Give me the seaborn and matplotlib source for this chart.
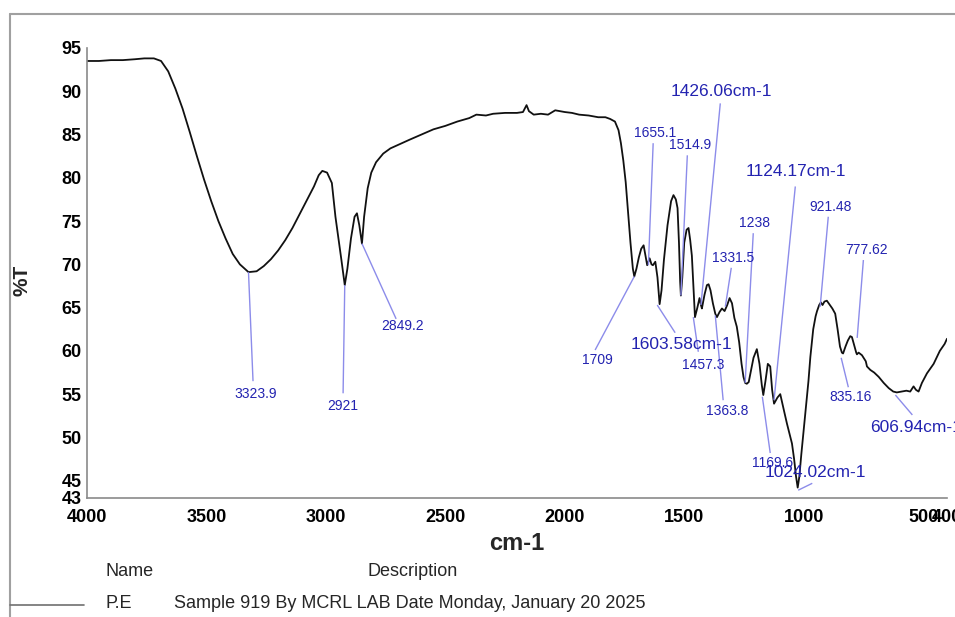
import matplotlib
matplotlib.use("Agg")
import matplotlib.pyplot as plt
from matplotlib.lines import Line2D
import seaborn as sns
import pandas as pd

# ---------------- data ----------------
wavenumber = [4000, 3950, 3900, 3850, 3800, 3760, 3720, 3690, 3660, 3630, 3600, 3570, 3540, 3510,
              3480, 3450, 3420, 3390, 3360, 3324, 3290, 3260, 3230, 3200, 3170, 3140, 3110, 3080,
              3050, 3030, 3015, 2995, 2975, 2960, 2950, 2935, 2921, 2910, 2895, 2880, 2870, 2860,
              2849, 2840, 2825, 2810, 2790, 2760, 2730, 2690, 2650, 2600, 2550, 2500, 2450, 2400,
              2370, 2330, 2300, 2250, 2200, 2175, 2160, 2150, 2130, 2100, 2070, 2040, 2020, 2000,
              1970, 1940, 1900, 1860, 1830, 1810, 1790, 1775, 1765, 1755, 1745, 1735, 1725, 1715,
              1709, 1700, 1690, 1680, 1670, 1662, 1655, 1645, 1637, 1631, 1621, 1612, 1603, 1595,
              1585, 1570, 1555, 1545, 1535, 1528, 1522, 1517, 1514, 1508, 1500, 1490, 1482, 1475,
              1468, 1460, 1455, 1445, 1436, 1430, 1426, 1415, 1405, 1398, 1390, 1380, 1370, 1363,
              1352, 1342, 1331, 1320, 1310, 1300, 1290, 1280, 1270, 1260, 1252, 1245, 1238, 1230,
              1220, 1210, 1196, 1185, 1175, 1169, 1160, 1150, 1140, 1132, 1124, 1110, 1098, 1090,
              1080, 1070, 1060, 1049, 1040, 1032, 1025, 1018, 1010, 1000, 990, 980, 972, 960,
              950, 944, 935, 928, 921, 913, 903, 890, 880, 868, 858, 848, 840, 835, 825, 815,
              805, 798, 790, 780, 777, 770, 756, 740, 735, 721, 705, 686, 665, 644, 625, 610,
              590, 570, 554, 545, 540, 530, 519, 505, 484, 456, 430, 410, 400]
transmittance = [93.5, 93.5, 93.6, 93.6, 93.7, 93.8, 93.8, 93.5, 92.3, 90.3, 88.0, 85.3, 82.5, 79.8,
                 77.3, 75.0, 73.0, 71.2, 70.0, 69.1, 69.2, 69.8, 70.6, 71.6, 72.8, 74.2, 75.8, 77.4,
                 79.0, 80.3, 80.8, 80.6, 79.4, 75.5, 73.5, 70.5, 67.6, 69.5, 73.0, 75.5, 75.9, 74.5,
                 72.4, 75.5, 78.8, 80.6, 81.8, 82.8, 83.4, 83.9, 84.4, 85.0, 85.6, 86.0, 86.5, 86.9,
                 87.3, 87.2, 87.4, 87.5, 87.5, 87.6, 88.4, 87.7, 87.3, 87.4, 87.3, 87.8, 87.7, 87.6,
                 87.5, 87.3, 87.2, 87.0, 87.0, 86.8, 86.5, 85.5, 84.0, 82.0, 79.5, 76.0, 72.5, 69.5,
                 68.6, 69.5, 70.8, 71.8, 72.2, 71.0, 69.9, 70.7, 70.0, 69.9, 70.3, 68.5, 65.4, 67.0,
                 70.5, 74.5, 77.3, 78.0, 77.5, 76.5, 72.5, 68.0, 66.4, 68.5, 72.5, 74.0, 74.2, 72.8,
                 71.0, 66.5, 63.9, 65.0, 66.1, 65.3, 64.9, 66.5, 67.6, 67.7, 67.0, 65.5, 64.3, 63.9,
                 64.5, 64.9, 64.6, 65.3, 66.1, 65.5, 63.8, 62.8, 61.0, 58.5, 57.0, 56.3, 56.2, 56.4,
                 57.8, 59.2, 60.2, 58.5, 56.0, 54.9, 56.5, 58.5, 58.2, 55.5, 53.9, 54.6, 55.0, 54.0,
                 52.8, 51.6, 50.5, 49.3, 47.5, 45.5, 44.2, 45.5, 48.0, 50.8, 53.5, 56.5, 59.3, 62.5,
                 64.0, 64.6, 65.3, 65.6, 65.3, 65.7, 65.8, 65.3, 64.9, 64.3, 62.5, 60.5, 59.8, 59.7,
                 60.5, 61.2, 61.7, 61.6, 60.8, 59.8, 59.6, 59.8, 59.5, 58.8, 58.2, 57.8, 57.5, 57.0,
                 56.3, 55.7, 55.3, 55.2, 55.3, 55.4, 55.3, 55.7, 55.9, 55.5, 55.3, 56.3, 57.4, 58.5,
                 60.0, 60.8, 61.4]

# peak labels: text, text position (wn, %T), leader line start and end (wn, %T)
peak_text = ["3323.9", "2921", "2849.2", "1709", "1655.1", "1514.9", "1426.06cm-1",
             "1124.17cm-1", "921.48", "1238", "1331.5", "777.62", "1603.58cm-1", "1457.3",
             "1363.8", "835.16", "606.94cm-1", "1169.6", "1024.02cm-1"]
peak_big = [False, False, False, False, False, False, True,
            True, False, False, False, False, True, False,
            False, False, True, False, True]
text_wn = [3296, 2928, 2677, 1864, 1621, 1475, 1345, 1031, 889, 1207, 1295, 738, 1726, 1420,
           1320, 805, 721, 1132, 952]
text_t = [55.0, 53.6, 62.9, 58.9, 85.2, 83.8, 90.0, 80.7, 76.6, 74.8, 70.7, 71.6, 60.7, 58.4,
          53.1, 54.7, 51.1, 47.1, 46.0]
text_ha = ["center", "center", "center", "center", "center", "center", "center", "center",
           "center", "center", "center", "center", "left", "center", "center", "center",
           "left", "center", "center"]
line_wn0 = [3324, 2921, 2849, 1709, 1650, 1514, 1430, 1124, 931, 1245, 1328, 776, 1613, 1462,
            1370, 843, 616, 1173, 1023]
line_t0 = [69.1, 67.6, 72.4, 68.6, 69.9, 66.4, 65.3, 54.3, 65.1, 56.3, 65.1, 61.5, 65.3, 63.9,
           64.1, 59.2, 54.9, 54.7, 43.9]
line_wn1 = [3305, 2928, 2706, 1873, 1630, 1487, 1349, 1035, 897, 1211, 1303, 750, 1538, 1441,
            1337, 813, 545, 1140, 964]
line_t1 = [56.5, 55.1, 63.7, 60.1, 84.0, 82.6, 88.6, 79.0, 75.5, 73.6, 69.6, 70.5, 62.1, 59.9,
           54.3, 55.8, 52.6, 48.2, 44.7]

x_ticks = [4000, 3500, 3000, 2500, 2000, 1500, 1000, 500, 400]
y_ticks = [43, 45, 50, 55, 60, 65, 70, 75, 80, 85, 90, 95]

# ---------------- style ----------------
sns.set_theme(style="white")
plt.rcParams["font.family"] = ["Liberation Sans", "DejaVu Sans"]

fig = plt.figure(figsize=(9.55, 6.17), dpi=100)
ax = fig.add_axes([87 / 955, 1 - 498 / 617, (947 - 87) / 955, (498 - 48) / 617])

df = pd.DataFrame({"wn": wavenumber, "T": transmittance})
sns.lineplot(data=df, x="wn", y="T", sort=False, estimator=None, color="#111111",
             linewidth=1.3, ax=ax)

ax.set_xlim(4000, 400)
ax.set_ylim(43, 95)
ax.set_xticks(x_ticks)
ax.set_yticks(y_ticks)
ax.set_xticklabels([str(v) for v in x_ticks])
ax.set_yticklabels([str(v) for v in y_ticks])
ax.set_xlabel("")
ax.set_ylabel("")
for s in ["top", "right"]:
    ax.spines[s].set_visible(False)
for s in ["left", "bottom"]:
    ax.spines[s].set_color("#8a8a8a")
    ax.spines[s].set_linewidth(1.2)
ax.tick_params(axis="both", which="major", direction="out", length=4, width=1,
               color="#8a8a8a", labelcolor="black")
ax.tick_params(axis="y", pad=0)
ax.tick_params(axis="x", pad=4)
for lab in ax.get_xticklabels() + ax.get_yticklabels():
    lab.set_fontweight("bold")
    lab.set_fontsize(13)

label_color = "#2323b0"
leader_color = "#8c8cea"
for i, t in enumerate(peak_text):
    ax.plot([line_wn0[i], line_wn1[i]], [line_t0[i], line_t1[i]], color=leader_color,
            linewidth=1.0, solid_capstyle="butt", clip_on=False)
    ax.text(text_wn[i], text_t[i], t, ha=text_ha[i], va="center", color=label_color,
            fontsize=12.5 if peak_big[i] else 10, clip_on=False)

fig.text(22 / 955, 1 - 280 / 617, "%T", rotation=90, ha="center", va="center",
         fontsize=15, fontweight="bold")
fig.text(517 / 955, 1 - 543 / 617, "cm-1", ha="center", va="center",
         fontsize=17, fontweight="bold")

fig.text(105 / 955, 1 - 571 / 617, "Name", ha="left", va="center", fontsize=13)
fig.text(367 / 955, 1 - 571 / 617, "Description", ha="left", va="center", fontsize=13)
fig.text(105 / 955, 1 - 603 / 617, "P.E", ha="left", va="center", fontsize=13)
fig.text(174 / 955, 1 - 603 / 617, "Sample 919 By MCRL LAB Date Monday, January 20 2025",
         ha="left", va="center", fontsize=13)

frame_color = "#a0a0a0"
fig.add_artist(Line2D([10 / 955, 1.0], [1 - 14 / 617, 1 - 14 / 617], color=frame_color,
                      linewidth=1.5, transform=fig.transFigure))
fig.add_artist(Line2D([10 / 955, 10 / 955], [1 - 14 / 617, 0.0], color=frame_color,
                      linewidth=1.5, transform=fig.transFigure))
fig.add_artist(Line2D([10 / 955, 84 / 955], [1 - 605 / 617, 1 - 605 / 617], color="#707070",
                      linewidth=1.2, transform=fig.transFigure))

fig.savefig("out.png", dpi=100)
